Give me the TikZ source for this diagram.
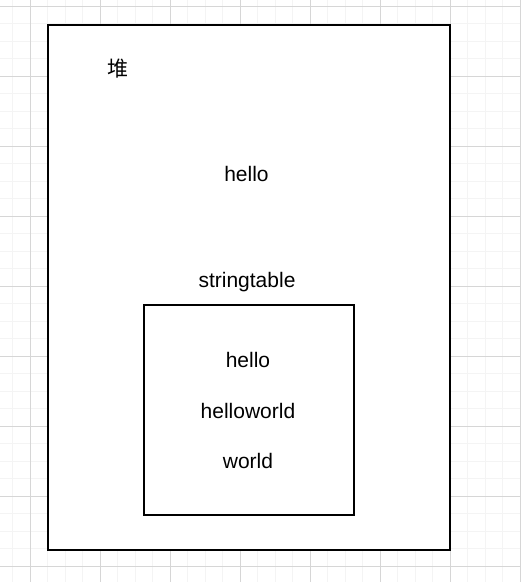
\documentclass[tikz,border=0pt]{standalone}
\usepackage{fontspec}
\setmainfont{Liberation Sans}
\newfontfamily\cjk{Noto Sans CJK SC}
\usepackage{xcolor}
\definecolor{gridminor}{HTML}{F4F4F4}
\definecolor{gridmajor}{HTML}{D6D6D6}

\begin{document}
\begin{tikzpicture}[x=1pt,y=-1pt,
		label/.style={anchor=base,inner sep=0pt,font=\fontsize{21}{25}\selectfont}]
		\useasboundingbox (0,0) rectangle (521,582);
		\fill[white] (0,0) rectangle (521,582);

		\foreach \x in {-5,12.5,...,530}{% minor grid lines
			\draw[gridminor,line width=1pt] (\x,0) -- (\x,582);
		}
		\foreach \y in {-11.5,6,...,590}{%
			\draw[gridminor,line width=1pt] (0,\y) -- (521,\y);
		}
		\foreach \x in {30,100,...,520}{% major grid lines
			\draw[gridmajor,line width=1pt] (\x,0) -- (\x,582);
		}
		\foreach \y in {6,76,...,580}{%
			\draw[gridmajor,line width=1pt] (0,\y) -- (521,\y);
		}

		\coordinate (HeapNW)  at (48,25);
		\coordinate (HeapSE)  at (450,550);
		\coordinate (TableNW) at (144,305);
		\coordinate (TableSE) at (354,515);
		\filldraw[fill=white,draw=black,line width=2pt] (HeapNW) rectangle (HeapSE);% the heap
		\draw[black,line width=2pt] (TableNW) rectangle (TableSE);% the string table

		\node[inner sep=0pt,font=\fontsize{21}{25}\selectfont\cjk] (heap) at (117.5,69) {堆};
		\node[label] (hello)      at (246.5,181.5) {hello};
		\node[label] (stringtable) at (247,287) {stringtable};
		\node[label] (tabhello)   at (248,367.5) {hello};
		\node[label] (tabhelloworld) at (248,418) {helloworld};
		\node[label] (tabworld)   at (248,468) {world};
	  \end{tikzpicture}
\end{document}
